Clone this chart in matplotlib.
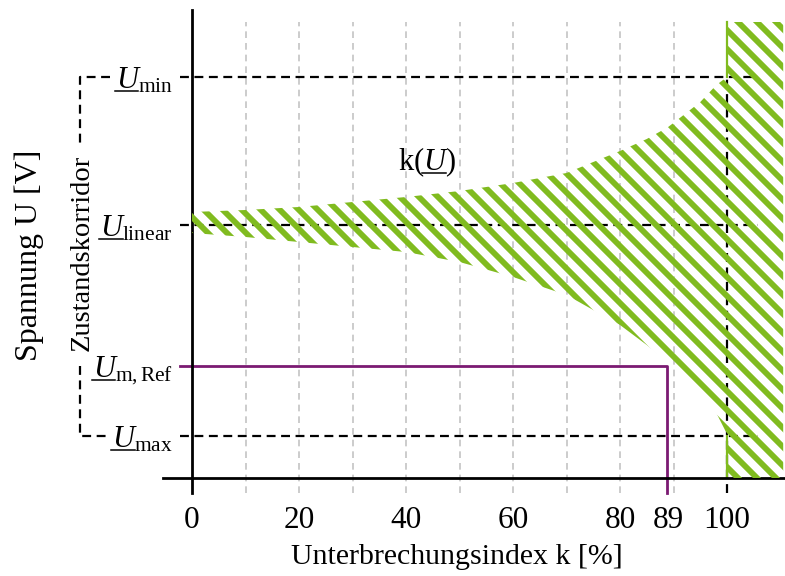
import numpy as np
import matplotlib
matplotlib.use('Agg')
import matplotlib.pyplot as plt
from matplotlib.collections import LineCollection
from matplotlib.lines import Line2D
from matplotlib.transforms import IdentityTransform

plt.rcParams['font.family'] = ['Liberation Serif', 'DejaVu Serif']
plt.rcParams['mathtext.fontset'] = 'custom'
plt.rcParams['mathtext.rm'] = 'Liberation Serif'
plt.rcParams['mathtext.it'] = 'Liberation Serif:italic'

# corridor k(U) (U in arbitrary units above the k axis)
k_band = [0, 10, 20, 30, 40, 50, 60, 70, 80, 85, 89, 95, 98, 100]
u_upper = [266, 268, 271, 276, 281, 287, 295, 305, 327, 339, 351, 376, 393, 401]
u_lower = [245, 241, 236, 231, 226, 216, 201, 183, 153, 133, 116, 87, 65, 44]
k_right = [100, 110.5]
u_top = 456

u_levels = [42, 112, 253, 401]
u_labels = [r'$U_{\mathrm{max}}$', r'$U_{\mathrm{m,Ref}}$',
            r'$U_{\mathrm{linear}}$', r'$U_{\mathrm{min}}$']
k_ref = 88.8
xticks = [0, 20, 40, 60, 80, 89, 100]
grid_k = [10, 20, 30, 40, 50, 60, 70, 80, 90]

green = '#80bb1f'
purple = '#7b1a72'

fig = plt.figure(figsize=(7.85, 5.76), dpi=100)
ax = fig.add_axes([192/785, 98/576, 591.2/785, 468/576])
ax.set_xlim(0, 110.5)
ax.set_ylim(0, 468)
for s in ax.spines.values():
    s.set_visible(False)

# hatched region
kk = k_band + k_right
up = u_upper + [u_top, u_top]
lo = u_lower + [0, 0]
poly = ax.fill_between(kk, lo, up, facecolor='none', edgecolor='none')
segs = [[(x, 700), (x + 700, 0)] for x in np.arange(-700, 800, 19)]
lc = LineCollection(segs, colors=green, linewidths=4.2, transform=IdentityTransform(), zorder=1)
lc.set_clip_path(poly.get_paths()[0], ax.transData)
fig.add_artist(lc)

# grid
ax.vlines(grid_k, -15, 456, colors='#c4c4c4', linestyles=(0, (4, 3)), lw=1.2, clip_on=False, zorder=2)

# axes
ax.plot([-5.4, 110.8], [0, 0], color='k', lw=2, clip_on=False, zorder=4)
ax.plot([0, 0], [-15, 468], color='k', lw=2, clip_on=False, zorder=4)

# levels
for u in [u_levels[0], u_levels[2], u_levels[3]]:
    ax.plot([-2.2, 105.8], [u, u], color='k', ls='--', dashes=(4, 2.5), lw=1.6, clip_on=False, zorder=3)
ax.plot([100, 100], [-15, u_levels[3]], color='k', ls='--', dashes=(4, 2.5), lw=1.6, clip_on=False, zorder=3)
ax.plot([100, 100], [u_levels[3], u_top], color=green, lw=1.6, zorder=3)
ax.plot([100, 100], [0, u_levels[0]], color=green, lw=1.6, zorder=3)

# reference
ax.plot([-2.2, k_ref, k_ref], [u_levels[1], u_levels[1], -15], color=purple, lw=2, clip_on=False, zorder=3)

# corridor bracket
ax.plot([-15.3, -20.9, -20.9], [u_levels[3], u_levels[3], 333], color='k', ls='--', dashes=(4, 2.5), lw=1.6, clip_on=False)
ax.plot([-20.9, -20.9, -15.3], [u_levels[1], u_levels[0], u_levels[0]], color='k', ls='--', dashes=(4, 2.5), lw=1.6, clip_on=False)
ax.text(-20.6, 225, 'Zustandskorridor', rotation=90, ha='center', va='center', fontsize=20.5)

ktxt = ax.text(43.9, 316, r'k($U$)', ha='center', va='center', fontsize=22)

ax.set_xticks(xticks)
ax.set_yticks(u_levels, labels=u_labels)
ax.tick_params(axis='both', length=0, labelsize=22.5)
ax.tick_params(axis='x', pad=20)
ax.tick_params(axis='y', pad=14, labelsize=22)

ax.set_xlabel('Unterbrechungsindex k [%]', fontsize=21.5)
ax.xaxis.set_label_coords(0.448, -0.141)
ax.set_ylabel('Spannung U [V]', fontsize=23)
ax.yaxis.set_label_coords(-0.25, 0.476)

# underline the complex U (mathtext has no \underline)
fig.canvas.draw()
r = fig.canvas.get_renderer()
def underline(t, x_off):
    prop = t.get_fontproperties()
    bb = t.get_window_extent(r)
    w, h, d = r.get_text_width_height_descent(t.get_text(), prop, ismath=True)
    wu = r.get_text_width_height_descent(r'$U$', prop, ismath=True)[0]
    yb = bb.y0 + d - 2.5
    x0 = bb.x0 + x_off
    fig.add_artist(Line2D([x0 - 1, x0 + wu - 3], [yb, yb], color='k', lw=1.1, transform=IdentityTransform()))

for lab in ax.get_yticklabels():
    underline(lab, 0)
wk = r.get_text_width_height_descent('k(', ktxt.get_fontproperties(), ismath=False)[0]
underline(ktxt, wk)

fig.savefig('out.png', dpi=100)
